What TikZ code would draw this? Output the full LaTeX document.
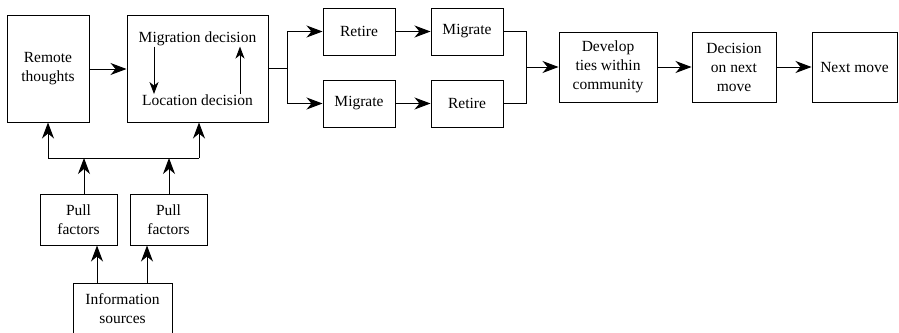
\documentclass[tikz,border=0pt]{standalone}
\usepackage{fontspec}
\setmainfont{Liberation Serif}
\usepackage{tikz}
\usetikzlibrary{arrows.meta}
\usetikzlibrary{positioning}
\tikzset{>={Stealth[length=16pt,width=12pt,inset=5pt]}}
\tikzset{box/.style = {rectangle, draw, line width=1pt, align=center, inner sep=0pt}}
\tikzset{small/.style = {-{Stealth[length=12pt,width=9pt,inset=3.5pt]}}}

\begin{document}
\begin{tikzpicture}[x=1pt, y=-1pt, line width=1pt, font=\rmfamily\fontsize{15.5}{19}\selectfont]
\useasboundingbox (0,0) rectangle (899,332);
% main row
\node [box, minimum width=82, minimum height=107] (remote) at (48, 68.5) {Remote\\thoughts};
\node [box, minimum width=141, minimum height=107] (migdec) at (197.5, 68.5) {};
\node [draw=none, inner sep=0] (migtxt) at (197.5, 39) {Migration decision};
\node [draw=none, inner sep=0] (loctxt) at (197.5, 100) {Location decision};
\node [box, minimum width=72, minimum height=47] (retA) at (359, 31.5) {Retire};
\node [box, minimum width=72, minimum height=47] (migA) at (467, 31.5) {Migrate};
\node [box, minimum width=72, minimum height=47] (migB) at (359, 103.5) {Migrate};
\node [box, minimum width=72, minimum height=47] (retB) at (467, 103.5) {Retire};
\node [box, minimum width=98, minimum height=70] (ties) at (608, 67) {Develop\\ties within\\community};
\node [box, minimum width=84, minimum height=70] (nextdec) at (734, 67) {Decision\\on next\\move};
\node [box, minimum width=85, minimum height=70] (next) at (854.5, 67) {Next move};
% lower part
\node [box, minimum width=77, minimum height=51] (pullA) at (78.5, 219.5) {Pull\\factors};
\node [box, minimum width=77, minimum height=51] (pullB) at (168.5, 219.5) {Pull\\factors};
\node [box, minimum width=99, minimum height=52] (info) at (122.5, 309) {Information\\sources};
\coordinate (jl) at (48, 158);
\coordinate (jr) at (199, 158);
\coordinate (jpa) at (84, 158);
\coordinate (jpb) at (169, 158);
\coordinate (split) at (287, 68.5);
\coordinate (merge) at (526, 67);

\draw [small] ([xshift=-43.5]migtxt.south) -- ([xshift=-43.5]migtxt.south |- loctxt.north);
\draw [small] ([xshift=42.5]migtxt.south |- loctxt.north) -- ([xshift=42.5]migtxt.south);
\draw [->] (remote.east |- 0,69) -- (migdec.west |- 0,69);
\draw (migdec.east) -- (split);
\draw (split |- retA) -- (split |- migB);
\draw [->] (split |- retA) -- (retA.west);
\draw [->] (split |- migB) -- (migB.west);
\draw [->] (retA) -- (migA);
\draw [->] (migB) -- (retB);
\draw (migA.east) -| (merge);
\draw (retB.east) -| (merge);
\draw [->] (merge) -- (ties.west);
\draw [->] (ties) -- (nextdec);
\draw [->] (nextdec) -- (next);
\draw (jl) -- (jr);
\draw [->] (jl) -- (remote.south);
\draw [->] (jr) -- (jr |- migdec.south);
\draw [->] (jpa |- pullA.north) -- (jpa);
\draw [->] (jpb |- pullB.north) -- (jpb);
\draw [->] ([xshift=-25.5]info.north) -- ([xshift=-25.5]info.north |- pullA.south);
\draw [->] ([xshift=24.5]info.north) -- ([xshift=24.5]info.north |- pullB.south);
\end{tikzpicture}
\end{document}
